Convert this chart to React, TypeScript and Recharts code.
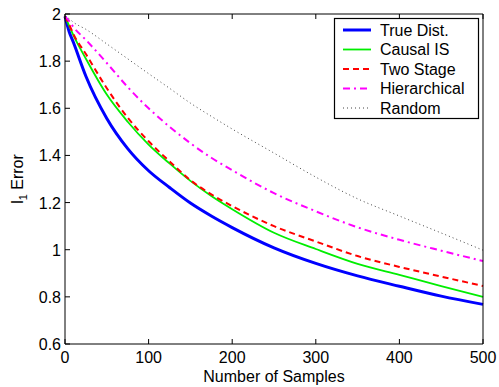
import React from "react";
import { LineChart, Line, XAxis, YAxis } from "recharts";

// ─── Data ─────────────────────────────────────────────────────────────────────

const samples = [0, 5, 10, 25, 50, 75, 100, 125, 150, 175, 200, 250, 300, 350, 400, 450, 500];
const trueDist = [1.99, 1.925, 1.88, 1.736, 1.557, 1.429, 1.335, 1.264, 1.198, 1.143, 1.094, 1.008, 0.942, 0.889, 0.845, 0.803, 0.768];
const causalIS = [1.99, 1.95, 1.91, 1.81, 1.658, 1.543, 1.446, 1.366, 1.292, 1.228, 1.172, 1.072, 1.003, 0.94, 0.893, 0.846, 0.8];
const twoStage = [1.99, 1.955, 1.915, 1.83, 1.685, 1.56, 1.46, 1.375, 1.295, 1.235, 1.185, 1.1, 1.035, 0.973, 0.927, 0.886, 0.846];
const hierarchical = [1.99, 1.97, 1.945, 1.89, 1.792, 1.69, 1.6, 1.522, 1.452, 1.39, 1.337, 1.24, 1.163, 1.095, 1.042, 0.996, 0.952];
const randomSel = [1.99, 1.98, 1.965, 1.935, 1.873, 1.81, 1.747, 1.685, 1.622, 1.566, 1.512, 1.41, 1.308, 1.216, 1.143, 1.071, 0.998];

const xTicks = [0, 100, 200, 300, 400, 500];
const yTicks = [0.6, 0.8, 1, 1.2, 1.4, 1.6, 1.8, 2];

const data = samples.map((n, i) => ({
  n,
  trueDist: trueDist[i],
  causalIS: causalIS[i],
  twoStage: twoStage[i],
  hierarchical: hierarchical[i],
  randomSel: randomSel[i],
}));

// ─── Styles ───────────────────────────────────────────────────────────────────

const FONT = "'Liberation Sans', Arial, sans-serif";
const FS = 16;
const TICK = 5;

const series = [
  { key: "trueDist", name: "True Dist.", color: "#0000ff", width: 3, dash: undefined },
  { key: "causalIS", name: "Causal IS", color: "#00ee00", width: 1.8, dash: undefined },
  { key: "twoStage", name: "Two Stage", color: "#ff0000", width: 2, dash: "6 4" },
  { key: "hierarchical", name: "Hierarchical", color: "#ff00ff", width: 2, dash: "7 4 2 4" },
  { key: "randomSel", name: "Random", color: "#444444", width: 1, dash: "1 3" },
];

const fmt = (v: number) => String(Number(v.toFixed(1)));

// ─── Ticks (MATLAB style, pointing inward) ────────────────────────────────────

function BottomTick({ x, y, payload }: any) {
  return (
    <g>
      <line x1={x} x2={x} y1={y} y2={y - TICK} stroke="#000" />
      <text x={x} y={y + 19} textAnchor="middle" fontSize={FS} fontFamily={FONT} fill="#000">
        {payload.value}
      </text>
    </g>
  );
}

function TopTick({ x, y }: any) {
  return <line x1={x} x2={x} y1={y} y2={y + TICK} stroke="#000" />;
}

function LeftTick({ x, y, payload }: any) {
  return (
    <g>
      <line x1={x} x2={x + TICK} y1={y} y2={y} stroke="#000" />
      <text x={x - 4} y={y + 6} textAnchor="end" fontSize={FS} fontFamily={FONT} fill="#000">
        {fmt(payload.value)}
      </text>
    </g>
  );
}

function RightTick({ x, y }: any) {
  return <line x1={x} x2={x - TICK} y1={y} y2={y} stroke="#000" />;
}

function XLabel() {
  return (
    <text x={274} y={382} textAnchor="middle" fontSize={FS} fontFamily={FONT} fill="#000">
      Number of Samples
    </text>
  );
}

function YLabel() {
  return (
    <text
      x={23}
      y={179}
      transform="rotate(-90, 23, 179)"
      textAnchor="middle"
      fontSize={FS}
      fontFamily={FONT}
      fill="#000"
    >
      l
      <tspan fontSize={11} dy={4}>1</tspan>
      <tspan dy={-4}> Error</tspan>
    </text>
  );
}

// ─── Legend overlay ───────────────────────────────────────────────────────────

function LegendBox() {
  const rowY = [30, 49.5, 69, 88.5, 108];
  return (
    <svg width={499} height={387} style={{ position: "absolute", left: 0, top: 0, pointerEvents: "none" }}>
      <rect x={334.5} y={18.5} width={144} height={100} fill="#fff" stroke="#000" strokeWidth={1.2} />
      {series.map((s, i) => (
        <g key={s.key}>
          <line
            x1={343}
            x2={371}
            y1={rowY[i]}
            y2={rowY[i]}
            stroke={s.color}
            strokeWidth={s.width}
            strokeDasharray={s.dash}
          />
          <text x={380} y={rowY[i] + 5.5} fontSize={FS} fontFamily={FONT} fill="#000">
            {s.name}
          </text>
        </g>
      ))}
    </svg>
  );
}

// ─── Chart ────────────────────────────────────────────────────────────────────

export default function App() {
  return (
    <div style={{ position: "absolute", left: 0, top: 0, width: 499, height: 387, background: "#fff" }}>
      <LineChart width={499} height={387} data={data} margin={{ top: 13, right: 15, bottom: 13, left: 25 }}>
        <XAxis
          dataKey="n"
          type="number"
          domain={[0, 500]}
          ticks={xTicks}
          tickSize={0}
          tickMargin={0}
          tickLine={false}
          tick={<BottomTick />}
          axisLine={{ stroke: "#000" }}
          height={30}
          interval={0}
          label={<XLabel />}
        />
        <XAxis
          xAxisId="top"
          orientation="top"
          dataKey="n"
          type="number"
          domain={[0, 500]}
          ticks={xTicks}
          tickSize={0}
          tickMargin={0}
          tickLine={false}
          tick={<TopTick />}
          axisLine={{ stroke: "#000" }}
          height={1}
          interval={0}
        />
        <YAxis
          type="number"
          domain={[0.6, 2]}
          ticks={yTicks}
          tickSize={0}
          tickMargin={0}
          tickLine={false}
          tick={<LeftTick />}
          axisLine={{ stroke: "#000" }}
          width={40}
          interval={0}
          label={<YLabel />}
        />
        <YAxis
          yAxisId="right"
          orientation="right"
          type="number"
          domain={[0.6, 2]}
          ticks={yTicks}
          tickSize={0}
          tickMargin={0}
          tickLine={false}
          tick={<RightTick />}
          axisLine={{ stroke: "#000" }}
          width={1}
          interval={0}
        />
        {series.map((s) => (
          <Line
            key={s.key}
            dataKey={s.key}
            name={s.name}
            type="monotone"
            stroke={s.color}
            strokeWidth={s.width}
            strokeDasharray={s.dash}
            dot={false}
            activeDot={false}
            isAnimationActive={false}
          />
        ))}
      </LineChart>
      <LegendBox />
    </div>
  );
}
